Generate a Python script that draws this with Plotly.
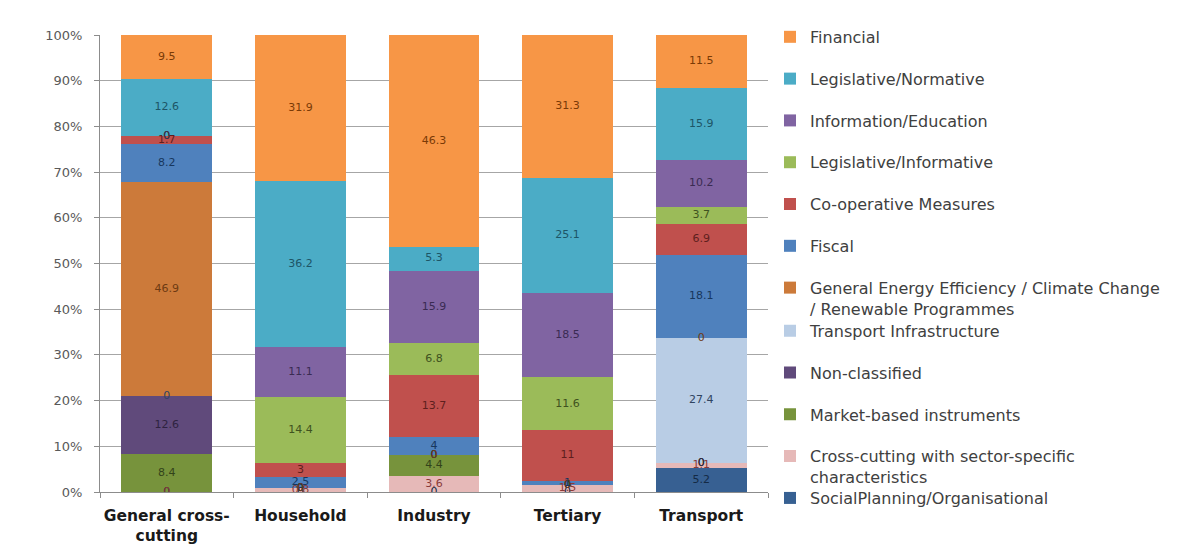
import plotly.graph_objects as go

# Sectors on the x axis
categories = ["General cross-<br>cutting", "Household", "Industry", "Tertiary", "Transport"]

# Share of measures (%) per instrument type, listed from the bottom of each stack upwards
social_planning = [0, 0, 0, 0, 5.2]
cross_cutting = [0, 0.8, 3.6, 1.5, 1.1]
market_based = [8.4, 0, 4.4, 0, 0]
non_classified = [12.6, 0, 0, 0, 0]
transport_infra = [0, 0, 0, 0, 27.4]
general_ee = [46.9, 0, 0, 0, 0]
fiscal = [8.2, 2.5, 4, 1, 18.1]
cooperative = [1.7, 3, 13.7, 11, 6.9]
legislative_informative = [0, 14.4, 6.8, 11.6, 3.7]
information_education = [0, 11.1, 15.9, 18.5, 10.2]
legislative_normative = [12.6, 36.2, 5.3, 25.1, 15.9]
financial = [9.5, 31.9, 46.3, 31.3, 11.5]

# (name, values, fill colour, label colour, legend box)
series = [
    ("SocialPlanning/Organisational", social_planning, "#376092", "#142a45", "legend3"),
    ("Cross-cutting with sector-specific<br>characteristics", cross_cutting, "#E6B9B8", "#8a3a38", "legend2"),
    ("Market-based instruments", market_based, "#77933C", "#33431a", "legend2"),
    ("Non-classified", non_classified, "#604A7B", "#2e2340", "legend2"),
    ("Transport Infrastructure", transport_infra, "#B9CDE5", "#2f4461", "legend2"),
    ("General Energy Efficiency / Climate Change<br>/ Renewable Programmes", general_ee, "#CC7A3A", "#6e3a12", "legend"),
    ("Fiscal", fiscal, "#4F81BD", "#17375E", "legend"),
    ("Co-operative Measures", cooperative, "#C0504D", "#5e1f1d", "legend"),
    ("Legislative/Informative", legislative_informative, "#9BBB59", "#3f5220", "legend"),
    ("Information/Education", information_education, "#8064A2", "#3a2b52", "legend"),
    ("Legislative/Normative", legislative_normative, "#4BACC6", "#1d5566", "legend"),
    ("Financial", financial, "#F79646", "#7a3a06", "legend"),
]

fig = go.Figure()

n = len(series)
for i, (name, vals, color, _, leg) in enumerate(series):
    fig.add_trace(go.Bar(
        x=categories, y=vals, name=name,
        marker=dict(color=color, line=dict(width=0)),
        legend=leg, legendgroup=name, legendrank=n - i,
        hoverinfo="skip",
    ))

# Value labels at the middle of every segment (zeros included)
lx, ly, lt, lc = [], [], [], []
base = [0.0] * len(categories)
for name, vals, _, tcol, _ in series:
    for j, v in enumerate(vals):
        lx.append(categories[j])
        ly.append(base[j] + v / 2)
        lt.append(f"{v:g}")
        lc.append(tcol)
        base[j] += v
fig.add_trace(go.Scatter(
    x=lx, y=ly, text=lt, mode="text",
    textfont=dict(family="DejaVu Sans", size=11, color=lc),
    showlegend=False, hoverinfo="skip",
))

legend_common = dict(
    xanchor="left", yanchor="top", x=1.003,
    font=dict(family="DejaVu Sans", size=16, color="#404040"),
    bgcolor="rgba(0,0,0,0)", valign="top",
    tracegroupgap=18, traceorder="grouped", maxheight=540,
)

fig.update_layout(
    width=1184, height=560,
    margin=dict(l=100, r=416, t=35, b=68, autoexpand=False),
    paper_bgcolor="white", plot_bgcolor="white",
    barmode="stack", bargap=0.32,
    font=dict(family="DejaVu Sans", color="#404040"),
    legend=dict(y=1.033, **legend_common),
    legend2=dict(y=0.390, **legend_common),
    legend3=dict(y=0.024, **legend_common),
    xaxis=dict(
        showline=True, linecolor="#8c8c8c", linewidth=1,
        ticks="outside", ticklen=5, tickcolor="#8c8c8c", tickson="boundaries",
        tickfont=dict(family="DejaVu Sans", size=15.5, color="#1a1a1a", weight="bold"),
        tickangle=0, automargin=False, ticklabelstandoff=9,
        showgrid=False,
    ),
    yaxis=dict(
        range=[0, 100], dtick=10, ticksuffix="%",
        showline=True, linecolor="#8c8c8c", linewidth=1,
        ticks="outside", ticklen=5, tickcolor="#8c8c8c",
        tickfont=dict(family="DejaVu Sans", size=13, color="#595959"),
        ticklabelstandoff=9, automargin=False,
        showgrid=True, gridcolor="#a6a6a6", gridwidth=1,
        zeroline=False,
    ),
    showlegend=True,
)

fig.write_html("out.html")
